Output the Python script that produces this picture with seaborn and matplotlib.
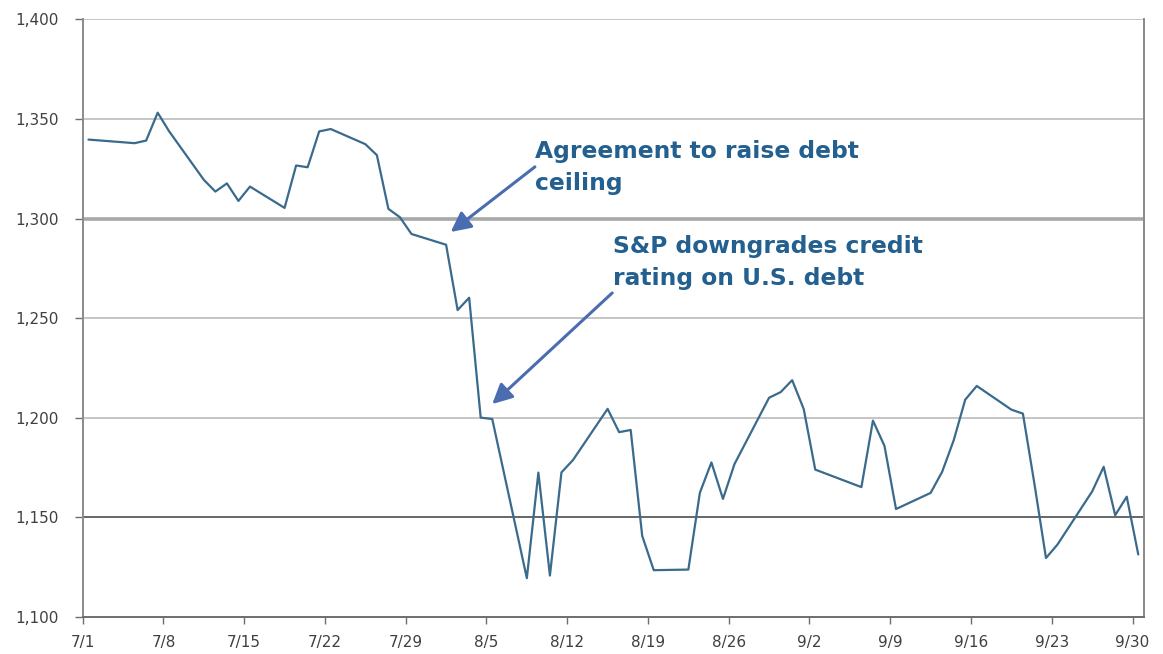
import matplotlib
matplotlib.use("Agg")
import matplotlib.pyplot as plt
import matplotlib.dates as mdates
import pandas as pd
import seaborn as sns

# ---- data (S&P 500 daily close, Jul-Sep 2011) ----
dates = ["2011-07-01", "2011-07-05", "2011-07-06", "2011-07-07", "2011-07-08",
         "2011-07-11", "2011-07-12", "2011-07-13", "2011-07-14", "2011-07-15",
         "2011-07-18", "2011-07-19", "2011-07-20", "2011-07-21", "2011-07-22",
         "2011-07-25", "2011-07-26", "2011-07-27", "2011-07-28", "2011-07-29",
         "2011-08-01", "2011-08-02", "2011-08-03", "2011-08-04", "2011-08-05",
         "2011-08-08", "2011-08-09", "2011-08-10", "2011-08-11", "2011-08-12",
         "2011-08-15", "2011-08-16", "2011-08-17", "2011-08-18", "2011-08-19",
         "2011-08-22", "2011-08-23", "2011-08-24", "2011-08-25", "2011-08-26",
         "2011-08-29", "2011-08-30", "2011-08-31", "2011-09-01", "2011-09-02",
         "2011-09-06", "2011-09-07", "2011-09-08", "2011-09-09",
         "2011-09-12", "2011-09-13", "2011-09-14", "2011-09-15", "2011-09-16",
         "2011-09-19", "2011-09-20", "2011-09-21", "2011-09-22", "2011-09-23",
         "2011-09-26", "2011-09-27", "2011-09-28", "2011-09-29", "2011-09-30"]
closes = [1339.7, 1337.9, 1339.2, 1353.2, 1343.8,
          1319.5, 1313.6, 1317.7, 1308.9, 1316.1,
          1305.4, 1326.7, 1325.8, 1343.8, 1345.0,
          1337.4, 1331.9, 1304.9, 1300.7, 1292.3,
          1286.9, 1254.1, 1260.3, 1200.1, 1199.4,
          1119.5, 1172.5, 1120.8, 1172.6, 1178.8,
          1204.5, 1192.8, 1193.9, 1140.7, 1123.5,
          1123.8, 1162.4, 1177.6, 1159.3, 1176.8,
          1210.1, 1212.9, 1218.9, 1204.4, 1174.0,
          1165.2, 1198.6, 1185.9, 1154.2,
          1162.3, 1172.9, 1188.7, 1209.1, 1216.0,
          1204.1, 1202.1, 1166.8, 1129.6, 1136.4,
          1163.0, 1175.4, 1151.1, 1160.4, 1131.4]

y_ticks = [1100, 1150, 1200, 1250, 1300, 1350, 1400]
y_tick_labels = ["1,100", "1,150", "1,200", "1,250", "1,300", "1,350", "1,400"]
x_tick_dates = ["2011-07-01", "2011-07-08", "2011-07-15", "2011-07-22", "2011-07-29",
                "2011-08-05", "2011-08-12", "2011-08-19", "2011-08-26", "2011-09-02",
                "2011-09-09", "2011-09-16", "2011-09-23", "2011-09-30"]
x_tick_labels = ["7/1", "7/8", "7/15", "7/22", "7/29", "8/5", "8/12", "8/19",
                 "8/26", "9/2", "9/9", "9/16", "9/23", "9/30"]

note1 = "Agreement to raise debt\nceiling"
note2 = "S&P downgrades credit\nrating on U.S. debt"

# ---- figure ----
sns.set_theme(style="white")
plt.rcParams["font.family"] = ["DejaVu Sans"]

fig = plt.figure(figsize=(11.63, 6.54), dpi=100)
ax = fig.add_axes([0.0711, 0.0566, 0.9126, 0.9136])

df = pd.DataFrame({"date": pd.to_datetime(dates), "close": closes})
# Excel date axis: points sit in the middle of each day
df["pos"] = df["date"] + pd.Timedelta(hours=12)

sns.lineplot(data=df, x="pos", y="close", ax=ax, color="#3a6a8c", linewidth=1.6)

# gridlines
grid_style = {1150: ("#5a5a5a", 1.3), 1300: ("#a8a8a8", 2.6)}
for v in y_ticks[1:]:
    c, lw = grid_style.get(v, ("#c0c0c0", 1.3))
    ax.axhline(v, color=c, lw=lw, zorder=0)

ax.set_ylim(1100, 1400)
ax.set_xlim(pd.Timestamp("2011-07-01"), pd.Timestamp("2011-10-01"))
ax.set_yticks(y_ticks)
ax.set_yticklabels(y_tick_labels)
ax.set_xticks(pd.to_datetime(x_tick_dates))
ax.set_xticklabels(x_tick_labels)
ax.set_xlabel("")
ax.set_ylabel("")

for s in ["left", "right", "bottom"]:
    ax.spines[s].set_visible(True)
    ax.spines[s].set_color("#8a8a8a")
    ax.spines[s].set_linewidth(1.4)
ax.spines["top"].set_visible(False)
ax.spines["bottom"].set_color("#6e6e6e")

ax.tick_params(axis="y", which="major", direction="out", length=6, width=1,
               color="#6e6e6e", pad=11, labelsize=11, labelcolor="#404040", left=True)
ax.tick_params(axis="x", which="major", direction="out", length=5, width=1,
               color="#6e6e6e", pad=8, labelsize=11, labelcolor="#404040", bottom=True)
for lbl in ax.get_xticklabels() + ax.get_yticklabels():
    lbl.set_family(["DejaVu Sans"])

d0 = mdates.date2num(pd.Timestamp("2011-07-01"))
txt_color = "#24608f"
arrow_color = "#4a6cb0"

ax.text(d0 + 39.2, 1314.4, note1, fontsize=16.8, fontweight="bold", color=txt_color,
        ha="left", va="baseline", linespacing=1.5, family=["DejaVu Sans"])
ax.text(d0 + 46.0, 1266.7, note2, fontsize=16.8, fontweight="bold", color=txt_color,
        ha="left", va="baseline", linespacing=1.5, family=["DejaVu Sans"])

arrow_kw = dict(arrowstyle="-|>,head_length=1.0,head_width=0.5", color=arrow_color,
                lw=2.2, shrinkA=0, shrinkB=0)
ax.annotate("", xy=(d0 + 31.9, 1293.3), xytext=(d0 + 39.2, 1326.0), arrowprops=arrow_kw)
ax.annotate("", xy=(d0 + 35.5, 1206.9), xytext=(d0 + 45.9, 1262.7), arrowprops=arrow_kw)

fig.savefig("out.png", dpi=100, facecolor="white")
